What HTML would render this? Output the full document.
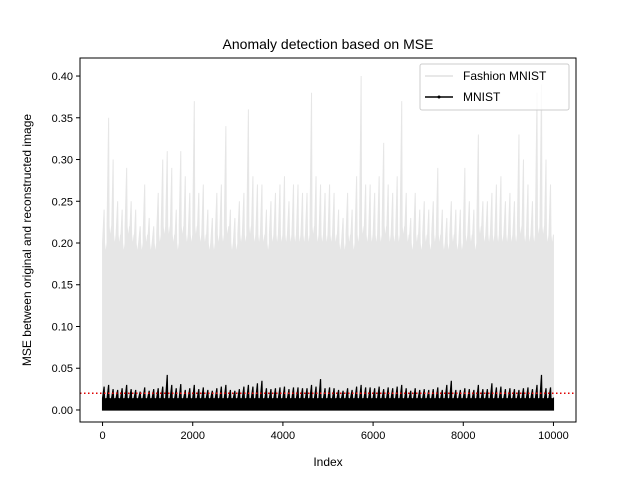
<!DOCTYPE html>
<html><head><meta charset="utf-8"><style>
body{margin:0;background:#fff}
svg{display:block;font-family:"Liberation Sans","DejaVu Sans",sans-serif}
</style></head><body>
<svg id="chart" width="640" height="480">
<rect width="640" height="480" fill="#fff"/>
<g id="plot"></g>
<g id="axes"></g>
<text x="328" y="49" font-size="14" text-anchor="middle">Anomaly detection based on MSE</text>
<text x="328" y="466" font-size="12" text-anchor="middle">Index</text>
<text transform="translate(31,240) rotate(-90)" font-size="12" text-anchor="middle">MSE between original and reconstructed image</text>
<g>
<rect x="420" y="64" width="149" height="46" rx="2" fill="#fff" fill-opacity="0.8" stroke="#ccc"/>
<g>
<line x1="425" y1="76" x2="453" y2="76" stroke="#e0e0e0" stroke-width="1.5"/>
<text x="463" y="80" font-size="12">Fashion MNIST</text></g>
<g>
<line x1="425" y1="97" x2="453" y2="97" stroke="#000" stroke-width="1.5"/>
<circle cx="439" cy="97" r="1.5" fill="#000"/>
<text x="463" y="101" font-size="12">MNIST</text></g>
</g>
</svg>
<script>
const binStarts=[0,100,200,300,400,500,600,700,800,900,1000,1100,1200,1300,1400,1500,1600,1700,1800,1900,2000,2100,2200,2300,2400,2500,2600,2700,2800,2900,3000,3100,3200,3300,3400,3500,3600,3700,3800,3900,4000,4100,4200,4300,4400,4500,4600,4700,4800,4900,5000,5100,5200,5300,5400,5500,5600,5700,5800,5900,6000,6100,6200,6300,6400,6500,6600,6700,6800,6900,7000,7100,7200,7300,7400,7500,7600,7700,7800,7900,8000,8100,8200,8300,8400,8500,8600,8700,8800,8900,9000,9100,9200,9300,9400,9500,9600,9700,9800,9900];
const fashionMax=[0.24,0.35,0.30,0.25,0.24,0.29,0.25,0.24,0.22,0.27,0.23,0.22,0.26,0.30,0.31,0.29,0.24,0.31,0.28,0.26,0.37,0.26,0.27,0.24,0.23,0.26,0.27,0.34,0.24,0.23,0.25,0.26,0.36,0.28,0.27,0.27,0.24,0.25,0.26,0.27,0.28,0.25,0.27,0.27,0.26,0.26,0.38,0.28,0.27,0.26,0.27,0.26,0.24,0.23,0.26,0.24,0.28,0.40,0.27,0.27,0.26,0.28,0.32,0.27,0.26,0.28,0.37,0.26,0.23,0.26,0.24,0.25,0.24,0.25,0.29,0.24,0.23,0.25,0.24,0.24,0.29,0.25,0.24,0.33,0.25,0.25,0.26,0.27,0.28,0.25,0.26,0.25,0.33,0.30,0.27,0.25,0.38,0.39,0.30,0.27];
const fashionBand=[0.20,0.22,0.21,0.21,0.20,0.22,0.21,0.20,0.20,0.21,0.20,0.20,0.21,0.22,0.22,0.21,0.20,0.22,0.21,0.21,0.22,0.21,0.21,0.20,0.20,0.21,0.21,0.22,0.20,0.20,0.21,0.21,0.22,0.21,0.21,0.21,0.20,0.21,0.21,0.21,0.21,0.21,0.21,0.21,0.21,0.21,0.22,0.21,0.21,0.21,0.21,0.21,0.20,0.20,0.21,0.20,0.21,0.22,0.21,0.21,0.21,0.21,0.22,0.21,0.21,0.21,0.22,0.21,0.20,0.21,0.20,0.21,0.20,0.21,0.21,0.20,0.20,0.21,0.20,0.20,0.21,0.21,0.20,0.22,0.21,0.21,0.21,0.21,0.21,0.21,0.21,0.21,0.22,0.21,0.21,0.21,0.22,0.22,0.21,0.21];
const mnistMax=[0.028,0.030,0.025,0.024,0.026,0.030,0.025,0.024,0.022,0.027,0.023,0.025,0.026,0.028,0.042,0.030,0.026,0.031,0.024,0.026,0.030,0.025,0.027,0.024,0.023,0.026,0.028,0.030,0.024,0.023,0.025,0.028,0.030,0.028,0.032,0.035,0.026,0.025,0.026,0.027,0.028,0.025,0.027,0.027,0.026,0.026,0.030,0.028,0.037,0.026,0.027,0.026,0.024,0.023,0.026,0.024,0.028,0.030,0.027,0.027,0.026,0.028,0.025,0.027,0.026,0.028,0.030,0.026,0.023,0.026,0.024,0.025,0.024,0.025,0.027,0.024,0.030,0.035,0.024,0.024,0.026,0.025,0.024,0.030,0.025,0.025,0.032,0.027,0.028,0.025,0.026,0.025,0.024,0.026,0.027,0.025,0.030,0.042,0.026,0.027];
const mnistBand=0.014;
const threshold=0.02;
const xTicks=[0,2000,4000,6000,8000,10000];
const yTicks=[0.00,0.05,0.10,0.15,0.20,0.25,0.30,0.35,0.40];

const L=80,R=576,T=58,B=422;
const xMin=-500,xMax=10500,yMin=-0.0144,yMax=0.4216;
const X=v=>L+(v-xMin)/(xMax-xMin)*(R-L);
const Y=v=>B-(v-yMin)/(yMax-yMin)*(B-T);
const NS="http://www.w3.org/2000/svg";
const plot=document.getElementById('plot'),axes=document.getElementById('axes');
function mk(tag,attrs,parent){const e=document.createElementNS(NS,tag);for(const k in attrs)e.setAttribute(k,attrs[k]);parent.appendChild(e);return e;}

function series(maxArr,bandFn,color,name,w){
  let pts=[[X(0),Y(0)]];
  binStarts.forEach((s,i)=>{
    pts.push([X(s),Y(bandFn(i))]);
    pts.push([X(s+35),Y(maxArr[i])]);
    pts.push([X(s+45),Y(bandFn(i))]);
    pts.push([X(s+70),Y(bandFn(i)*0.93)]);
    pts.push([X(s+100),Y(bandFn(i))]);
  });
  pts.push([X(10000),Y(0)]);
  const p=mk('polygon',{points:pts.map(q=>q.join(',')).join(' '),fill:color,stroke:color,'stroke-width':w},plot);
  
  
}
series(fashionMax,i=>fashionBand[i],'#e6e6e6','fashion-mnist-series',1);
series(mnistMax,i=>mnistBand,'#000','mnist-series',1.2);

const th=mk('line',{x1:L,x2:R,y1:Y(threshold),y2:Y(threshold),stroke:'#e00000','stroke-width':1.5,'stroke-dasharray':'1.5,2.5'},plot);



const fr=mk('rect',{x:L,y:T,width:R-L,height:B-T,fill:'none',stroke:'#000','stroke-width':1},axes);


xTicks.forEach(v=>{
  mk('line',{x1:X(v),x2:X(v),y1:B,y2:B+4,stroke:'#000'},axes);
  const t=mk('text',{x:X(v),y:B+17,'font-size':11,'text-anchor':'middle'},axes);
  t.textContent=v;
  
  
});
yTicks.forEach(v=>{
  mk('line',{x1:L-4,x2:L,y1:Y(v),y2:Y(v),stroke:'#000'},axes);
  const t=mk('text',{x:L-7,y:Y(v)+4,'font-size':11,'text-anchor':'end'},axes);
  t.textContent=v.toFixed(2);
  
  
});
</script>
</body></html>
